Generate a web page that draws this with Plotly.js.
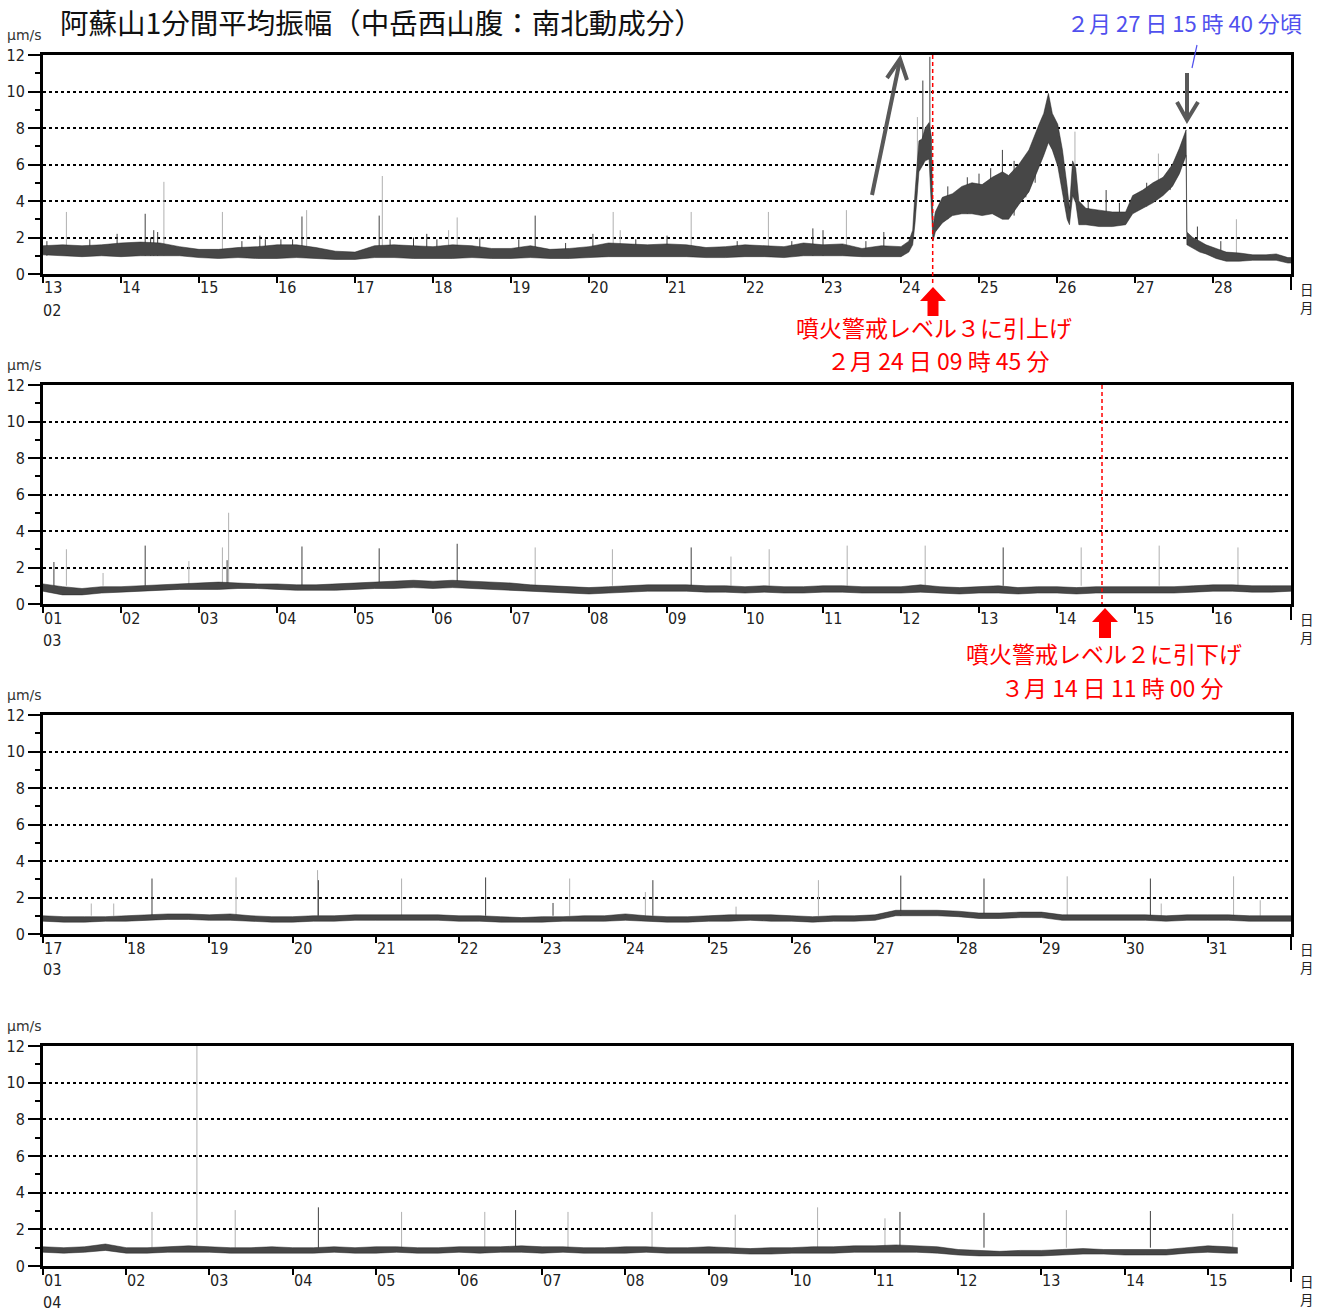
<!DOCTYPE html>
<html><head><meta charset="utf-8">
<script src="https://cdn.plot.ly/plotly-3.0.1.min.js"></script>
<style>html,body{margin:0;padding:0;background:#fff}#chart{width:1331px;height:1311px}</style>
</head><body><div id="chart"></div>
<script>
// ---------------- DATA ----------------
// times are day-of-month (fractional); panel 1: Feb 13 - Mar 1, panel 2: Mar 1-17, panel 3: Mar 17 - Apr 1, panel 4: Apr 1-16
function grid(start, n, step){ const a=[]; for(let i=0;i<n;i++) a.push(+(start+i*step).toFixed(3)); return a; }

// Panel 1 quiet part (6-hourly samples, Feb 13.00 - 24.00)
const P1_T_QUIET = grid(13, 45, 0.25);
const P1_LO_QUIET = [1.05,1.0,0.95,1.0, 0.95,1.0,1.0,1.0, 0.9,0.85,0.9,0.85, 0.85,0.9,0.85,0.8, 0.8,0.9,0.9,0.85, 0.85,0.85,0.9,0.85, 0.85,0.9,0.85,0.85, 0.9,0.95,0.95,0.95, 0.95,0.95,0.9,0.9, 0.95,0.95,0.9,1.0, 1.0,1.0,0.95,0.95, 0.95];
const P1_HI_QUIET = [1.55,1.6,1.55,1.6, 1.7,1.75,1.7,1.5, 1.35,1.35,1.45,1.5, 1.6,1.6,1.45,1.25, 1.2,1.55,1.6,1.55, 1.5,1.6,1.55,1.4, 1.4,1.55,1.35,1.4, 1.5,1.7,1.65,1.6, 1.65,1.6,1.45,1.5, 1.6,1.55,1.5,1.7, 1.6,1.65,1.4,1.55, 1.5];
// Panel 1 active part (irregular samples)
const P1_T_ACT = [24.10,24.15,24.18,24.23,24.27,24.31,24.36,24.39,24.41,24.44,24.53,24.66,24.78,24.91,25.04,25.17,25.30,25.38,25.51,25.64,25.77,25.83,25.89,25.94,26.01,26.07,26.13,26.16,26.20,26.24,26.28,26.37,26.54,26.71,26.88,26.97,27.10,27.23,27.36,27.48,27.57,27.63,27.655,27.665,27.74,27.83,27.91,28.04,28.17,28.34,28.51,28.68,28.81,28.96,29.0];
const P1_LO_ACT = [1.2,1.6,2.8,5.6,5.9,6.2,6.3,3.0,1.8,2.3,2.8,3.2,3.3,3.3,3.2,3.3,3.0,3.0,3.8,4.5,5.8,6.5,7.2,6.8,5.9,4.5,3.0,2.7,4.3,3.9,2.7,2.7,2.6,2.6,2.7,3.3,3.6,3.9,4.3,4.8,5.5,6.2,6.5,1.6,1.4,1.2,1.1,0.85,0.7,0.7,0.75,0.75,0.75,0.6,0.6];
const P1_HI_ACT = [1.8,2.4,4.5,7.3,7.4,8.0,8.3,7.5,2.6,3.4,4.2,4.4,4.8,5.0,4.9,5.3,5.6,5.4,6.0,6.8,8.2,8.8,9.9,8.8,8.2,6.8,4.8,3.6,6.2,5.8,4.0,3.6,3.5,3.4,3.4,4.3,4.6,5.0,5.3,6.0,6.9,7.7,7.9,2.3,2.0,1.8,1.6,1.4,1.2,1.15,1.05,1.05,1.1,0.9,0.9];
// Panel 1 isolated spikes (time, top, foot, dark?)
const P1_SPK_T = [13.30,13.95,14.31,14.42,14.55,15.30,15.78,16.32,16.38,17.31,17.35,17.92,18.20,18.31,19.31,20.31,20.40,21.31,22.30,22.87,23.00,23.30,23.78,24.21,24.28,24.37,25.30,26.23,26.63,27.30,28.30,
  13.05,13.60,14.38,14.47,15.55,15.85,16.05,16.20,17.45,17.75,18.05,18.60,19.10,19.70,20.05,20.60,21.00,21.90,22.60,23.55,
  24.60,24.85,25.00,25.15,25.45,25.60,25.72,26.40,26.80,27.15,27.45,27.80,28.10];
const P1_SPK_V = [3.4,2.2,3.3,2.4,5.05,3.4,2.1,3.15,3.5,3.2,5.37,2.2,2.4,3.1,3.2,3.4,2.4,3.4,3.4,2.5,2.4,3.5,2.3,8.6,10.6,11.9,6.8,7.8,4.6,6.6,3.0,
  1.8,1.9,2.0,2.3,1.8,1.9,1.9,1.9,1.9,2.0,1.9,2.0,1.9,1.7,2.2,1.9,2.1,1.8,1.8,1.8,
  4.8,5.3,5.5,5.8,6.2,6.5,7.2,4.0,3.9,5.0,5.8,2.6,1.8];
const P1_SPK_BASE = [1,1,1,1,1,1,1,1,1,1,1,1,1,1,1,1,1,1,1,1,1,1,1,5.6,6.0,6.3,4.5,5.5,3.0,5.0,1,
  1,1,1,1,1,1,1,1,1,1,1,1,1,1,1,1,1,1,1,1,
  3.0,3.3,3.3,3.3,3.2,4.2,5.0,2.8,2.7,3.7,4.6,1.3,0.8];
const P1_SPK_DARK = [0,1,1,1,0,0,1,1,0,1,0,1,0,0,1,0,0,0,0,1,1,0,1,0,1,1,1,0,1,0,0,
  1,1,1,1,1,1,1,1,1,1,1,1,1,1,1,1,1,1,1,1,
  1,1,1,1,1,1,1,1,1,1,1,1,1];

// Panel 2 (6-hourly, Mar 1.00 - 17.00)
const P2_T = grid(1, 65, 0.25);
const P2_LO = [0.7,0.5,0.5,0.6, 0.65,0.7,0.75,0.8, 0.8,0.8,0.85,0.85, 0.8,0.75,0.75,0.75, 0.8,0.85,0.85,0.9, 0.85,0.9,0.85,0.8, 0.75,0.7,0.65,0.6, 0.55,0.6,0.65,0.7, 0.7,0.7,0.65,0.65, 0.6,0.65,0.6,0.6, 0.65,0.65,0.6,0.6, 0.6,0.65,0.6,0.55, 0.6,0.6,0.55,0.6, 0.6,0.55,0.6,0.6, 0.6,0.6,0.6,0.65, 0.7,0.7,0.65,0.65, 0.7];
const P2_HI = [1.1,0.95,0.85,0.95, 0.95,1.0,1.05,1.1, 1.15,1.2,1.15,1.1, 1.1,1.05,1.05,1.1, 1.15,1.2,1.25,1.3, 1.25,1.3,1.25,1.2, 1.15,1.05,1.0,0.95, 0.9,0.95,1.0,1.05, 1.05,1.05,1.0,1.0, 0.95,1.0,0.95,0.95, 1.0,1.0,0.95,0.95, 0.95,1.05,0.95,0.9, 0.95,1.0,0.9,0.95, 0.95,0.9,0.95,0.95, 0.95,0.95,0.95,1.0, 1.05,1.05,1.0,1.0, 1.0];
const P2_SPK_T = [1.14,1.30,1.77,2.31,2.87,3.30,3.36,3.38,4.32,5.31,6.31,7.31,8.30,9.31,9.82,10.31,11.31,12.31,13.31,14.31,15.31,16.32];
const P2_SPK_V = [2.3,3.0,1.7,3.2,2.35,3.1,2.4,5.0,3.15,3.05,3.3,3.1,3.0,3.1,2.6,3.0,3.2,3.2,3.1,3.1,3.2,3.1];
const P2_SPK_DARK = [1,0,0,1,0,0,1,0,1,1,1,0,0,1,0,0,0,0,1,0,0,0];

// Panel 3 (6-hourly, Mar 17.00 - Apr 1.00 written as 32)
const P3_T = grid(17, 61, 0.25);
const P3_LO = [0.7,0.65,0.65,0.7, 0.7,0.75,0.8,0.8, 0.75,0.75,0.7,0.65, 0.65,0.7,0.7,0.75, 0.75,0.75,0.75,0.75, 0.7,0.7,0.65,0.65, 0.65,0.7,0.7,0.7, 0.75,0.7,0.65,0.65, 0.7,0.7,0.75,0.7, 0.7,0.65,0.7,0.7, 0.75,1.0,1.0,1.0, 0.95,0.85,0.85,0.9, 0.9,0.75,0.75,0.75, 0.75,0.75,0.7,0.75, 0.75,0.75,0.7,0.7, 0.7];
const P3_HI = [1.0,0.95,0.95,0.95, 1.0,1.05,1.1,1.1, 1.05,1.1,1.0,0.95, 0.95,1.0,1.0,1.05, 1.05,1.05,1.05,1.05, 1.0,1.0,0.95,0.9, 0.95,0.95,1.0,1.0, 1.1,1.0,0.95,0.95, 1.0,1.05,1.05,1.05, 1.0,0.95,1.0,1.0, 1.05,1.3,1.3,1.3, 1.25,1.15,1.15,1.2, 1.2,1.05,1.05,1.05, 1.05,1.05,1.0,1.05, 1.05,1.05,1.0,1.0, 1.0];
const P3_SPK_T = [17.58,17.85,18.31,19.32,20.30,20.31,21.31,22.32,23.13,23.33,24.24,24.33,25.33,26.32,27.31,28.31,29.31,30.31,30.44,31.31,31.63];
const P3_SPK_V = [1.67,1.67,3.04,3.1,3.5,2.95,3.04,3.1,1.7,3.04,2.3,2.95,1.5,2.95,3.2,3.04,3.16,3.04,1.67,3.16,1.85];
const P3_SPK_DARK = [0,0,1,0,0,1,0,1,1,0,0,1,0,0,1,1,0,1,0,0,0];

// Panel 4 (6-hourly, Apr 1.00 - 15.25, data end 15.36)
const P4_T = grid(1, 58, 0.25).concat([15.36]);
const P4_LO = [0.75,0.7,0.75,0.85, 0.7,0.7,0.75,0.75, 0.75,0.7,0.7,0.7, 0.7,0.7,0.75,0.7, 0.7,0.75,0.7,0.7, 0.75,0.7,0.75,0.75, 0.7,0.75,0.7,0.7, 0.7,0.75,0.7,0.7, 0.7,0.7,0.65,0.65, 0.7,0.7,0.7,0.75, 0.75,0.75,0.75,0.7, 0.6,0.55,0.55,0.55, 0.55,0.6,0.65,0.65, 0.6,0.6,0.6,0.7, 0.75,0.7, 0.7];
const P4_HI = [1.05,1.0,1.05,1.2, 1.0,1.0,1.05,1.1, 1.05,1.0,1.0,1.05, 1.0,1.0,1.05,1.0, 1.05,1.05,1.0,1.0, 1.05,1.05,1.05,1.1, 1.05,1.05,1.0,1.0, 1.05,1.05,1.0,1.0, 1.05,1.0,0.95,1.0, 1.0,1.05,1.05,1.1, 1.1,1.15,1.1,1.05, 0.9,0.85,0.8,0.85, 0.85,0.9,0.95,0.9, 0.9,0.9,0.9,1.0, 1.1,1.05, 1.0];
const P4_SPK_T = [2.31,2.85,3.31,4.31,5.31,6.31,6.68,7.31,8.32,9.32,10.31,11.12,11.30,12.31,13.30,14.31,15.30];
const P4_SPK_V = [2.95,12.0,3.05,3.2,2.95,2.95,3.05,2.95,2.95,2.8,3.2,2.6,2.95,2.9,3.05,3.0,2.85];
const P4_SPK_DARK = [0,0,0,1,0,0,1,0,0,0,0,0,1,1,0,1,0];

// Tick labels
const P1_TICKS = [13,14,15,16,17,18,19,20,21,22,23,24,25,26,27,28];
const P1_LABELS = ['13','14','15','16','17','18','19','20','21','22','23','24','25','26','27','28'];
const P2_TICKS = [1,2,3,4,5,6,7,8,9,10,11,12,13,14,15,16];
const P2_LABELS = ['01','02','03','04','05','06','07','08','09','10','11','12','13','14','15','16'];
const P3_TICKS = [17,18,19,20,21,22,23,24,25,26,27,28,29,30,31];
const P3_LABELS = ['17','18','19','20','21','22','23','24','25','26','27','28','29','30','31'];
const P4_TICKS = [1,2,3,4,5,6,7,8,9,10,11,12,13,14,15];
const P4_LABELS = ['01','02','03','04','05','06','07','08','09','10','11','12','13','14','15'];
const MONTHS = ['02','03','03','04'];

// Events
const LEVEL3_T = 24 + (9 + 45/60)/24;   // Feb 24 09:45 (panel 1)
const LEVEL2_T = 14.577;                 // dashed line position as drawn in panel 2

// ---------------- LAYOUT ----------------
const W = 1331, H = 1311;
const px = x => x / W, py = y => 1 - y / H;
const XL = 43, XR = 1291;
const PANELS = [
  {top:55,  bottom:274,  range:[13,29], ticks:P1_TICKS, labels:P1_LABELS},
  {top:385, bottom:604,  range:[1,17],  ticks:P2_TICKS, labels:P2_LABELS},
  {top:715, bottom:934,  range:[17,32], ticks:P3_TICKS, labels:P3_LABELS},
  {top:1046,bottom:1266, range:[1,16],  ticks:P4_TICKS, labels:P4_LABELS}
];
const NUMFONT = "'Liberation Sans Narrow','DejaVu Sans Condensed','Liberation Sans',sans-serif";
const JPFONT = "'Noto Sans CJK JP','Noto Sans CJK SC',sans-serif";

const layout = {
  width: W, height: H, margin:{l:0,r:0,t:0,b:0},
  paper_bgcolor:'#fff', plot_bgcolor:'#fff', showlegend:false,
  annotations:[], shapes:[]
};

PANELS.forEach((p,i)=>{
  const s = i===0 ? '' : String(i+1);
  layout['xaxis'+s] = {
    domain:[px(XL), px(XR)], range:p.range, anchor:'y'+s,
    tickmode:'array', tickvals:p.ticks.concat([p.range[1]]), showticklabels:false,
    ticks:'outside', ticklen:6, tickwidth:2, tickcolor:'#000',
    showline:true, mirror:true, linewidth:3, linecolor:'#000',
    showgrid:false, zeroline:false, fixedrange:true
  };
  layout['yaxis'+s] = {
    domain:[py(p.bottom), py(p.top)], range:[0,12], anchor:'x'+s,
    tickmode:'linear', tick0:0, dtick:2,
    ticks:'outside', ticklen:12, tickwidth:2, tickcolor:'#000',
    minor:{dtick:1, tick0:0, ticks:'outside', ticklen:5, tickwidth:2, tickcolor:'#000', showgrid:false},
    showgrid:true, gridcolor:'#000', gridwidth:2, griddash:'dot',
    showline:true, mirror:true, linewidth:3, linecolor:'#000',
    zeroline:false, fixedrange:true,
    tickfont:{family:NUMFONT, size:16, color:'#222'}
  };
  p.ticks.forEach((t,k)=>{
    layout.annotations.push({x:t, xref:'x'+s, y:py(p.bottom+14), yref:'paper', text:p.labels[k],
      xanchor:'left', yanchor:'middle', xshift:-1, showarrow:false,
      font:{family:NUMFONT, size:16, color:'#222'}});
  });
  layout.annotations.push({x:px(41), xref:'paper', y:py(p.bottom+36), yref:'paper', text:MONTHS[i],
    xanchor:'left', yanchor:'middle', showarrow:false, font:{family:NUMFONT, size:16, color:'#222'}});
  layout.annotations.push({x:px(25), xref:'paper', y:py(p.top-20), yref:'paper', text:'μm/s',
    xanchor:'center', yanchor:'middle', showarrow:false, font:{family:"'DejaVu Sans',sans-serif", size:14, color:'#333'}});
  layout.annotations.push({x:px(1307), xref:'paper', y:py(p.bottom+24), yref:'paper', text:'日<br>月',
    xanchor:'center', yanchor:'middle', showarrow:false, font:{family:JPFONT, size:13.5, color:'#222'}});
  layout.shapes.push({type:'line', xref:'paper', yref:'paper', x0:px(XR), x1:px(XR), y0:py(p.bottom), y1:py(p.bottom+16),
    line:{color:'#000', width:2}});
});

layout.annotations.push({x:px(58), xref:'paper', y:py(22), yref:'paper', xanchor:'left', yanchor:'middle', showarrow:false,
  text:'阿蘇山1分間平均振幅（中岳西山腹：南北動成分）', font:{family:JPFONT, size:28.5, color:'#111'}});
layout.annotations.push({x:px(1304), xref:'paper', y:py(22), yref:'paper', xanchor:'right', yanchor:'middle', showarrow:false,
  text:'２月 27 日 15 時 40 分頃', font:{family:JPFONT, size:22, color:'#5050ee'}});
const RED = '#ff0000';
function redText(x, y, t){
  layout.annotations.push({x:px(x), xref:'paper', y:py(y), yref:'paper', xanchor:'center', yanchor:'middle', showarrow:false,
    text:t, font:{family:JPFONT, size:23, color:RED}});
}
redText(934, 326.5, '噴火警戒レベル３に引上げ');
redText(938, 360.5, '２月 24 日 09 時 45 分');
redText(1104, 652.5, '噴火警戒レベル２に引下げ');
redText(1112, 686.5, '３月 14 日 11 時 00 分');

layout.shapes.push({type:'line', xref:'x', yref:'paper', x0:LEVEL3_T, x1:LEVEL3_T, y0:py(55), y1:py(284),
  line:{color:RED, width:1.5, dash:'4px,3px'}});
layout.shapes.push({type:'line', xref:'x2', yref:'paper', x0:LEVEL2_T, x1:LEVEL2_T, y0:py(385), y1:py(604),
  line:{color:RED, width:1.5, dash:'4px,3px'}});
function blockArrow(cx, tip, base, bottom, hw, sw){
  const P = (x,y)=> px(x)+','+py(y);
  return 'M'+P(cx,tip)+' L'+P(cx+hw,base)+' L'+P(cx+sw,base)+' L'+P(cx+sw,bottom)+' L'+P(cx-sw,bottom)+' L'+P(cx-sw,base)+' L'+P(cx-hw,base)+' Z';
}
layout.shapes.push({type:'path', xref:'paper', yref:'paper', path:blockArrow(933,287,301,316,13,5.5), fillcolor:RED, line:{width:0}});
layout.shapes.push({type:'path', xref:'paper', yref:'paper', path:blockArrow(1105,608,622,638,13,6), fillcolor:RED, line:{width:0}});
function polyline(pts){ return pts.map((q,k)=>(k?'L':'M')+px(q[0])+','+py(q[1])).join(' '); }
layout.shapes.push({type:'path', xref:'paper', yref:'paper', path:polyline([[872,195],[900,60]]), line:{color:'#595959', width:4}});
layout.shapes.push({type:'path', xref:'paper', yref:'paper', path:polyline([[887,78],[900,59],[907,80]]), line:{color:'#595959', width:4}});
layout.shapes.push({type:'path', xref:'paper', yref:'paper', path:polyline([[1187,73],[1187,119]]), line:{color:'#595959', width:4}});
layout.shapes.push({type:'path', xref:'paper', yref:'paper', path:polyline([[1177,102],[1187,120],[1198,102]]), line:{color:'#595959', width:4}});
layout.shapes.push({type:'line', xref:'paper', yref:'paper', x0:px(1197), y0:py(45), x1:px(1192), y1:py(68), line:{color:'#5050ee', width:1.2}});

// ---------------- TRACES ----------------
const traces = [];
function spikes(T, V, B, D, s){
  const lx=[], ly=[], dx=[], dy=[];
  T.forEach((t,k)=>{
    const base = B ? B[k] : 1.0;
    if (D[k]) { dx.push(t,t,null); dy.push(base,V[k],null); }
    else { lx.push(t,t,null); ly.push(base,V[k],null); }
  });
  traces.push({type:'scatter', mode:'lines', x:lx, y:ly, xaxis:'x'+s, yaxis:'y'+s, line:{color:'#b0b0b0', width:1}, hoverinfo:'skip'});
  traces.push({type:'scatter', mode:'lines', x:dx, y:dy, xaxis:'x'+s, yaxis:'y'+s, line:{color:'#404040', width:1}, hoverinfo:'skip'});
}
function band(T, LO, HI, s){
  traces.push({type:'scatter', mode:'lines', x:T, y:LO, xaxis:'x'+s, yaxis:'y'+s, line:{color:'#222', width:0.5}, hoverinfo:'skip'});
  traces.push({type:'scatter', mode:'lines', x:T, y:HI, xaxis:'x'+s, yaxis:'y'+s, fill:'tonexty', fillcolor:'#474747', line:{color:'#222', width:0.5}, hoverinfo:'skip'});
}
spikes(P1_SPK_T, P1_SPK_V, P1_SPK_BASE, P1_SPK_DARK, '');
band(P1_T_QUIET.concat(P1_T_ACT), P1_LO_QUIET.concat(P1_LO_ACT), P1_HI_QUIET.concat(P1_HI_ACT), '');
spikes(P2_SPK_T, P2_SPK_V, null, P2_SPK_DARK, '2');
band(P2_T, P2_LO, P2_HI, '2');
spikes(P3_SPK_T, P3_SPK_V, null, P3_SPK_DARK, '3');
band(P3_T, P3_LO, P3_HI, '3');
spikes(P4_SPK_T, P4_SPK_V, null, P4_SPK_DARK, '4');
band(P4_T, P4_LO, P4_HI, '4');

Plotly.newPlot('chart', traces, layout, {staticPlot:true, displayModeBar:false});
</script></body></html>
